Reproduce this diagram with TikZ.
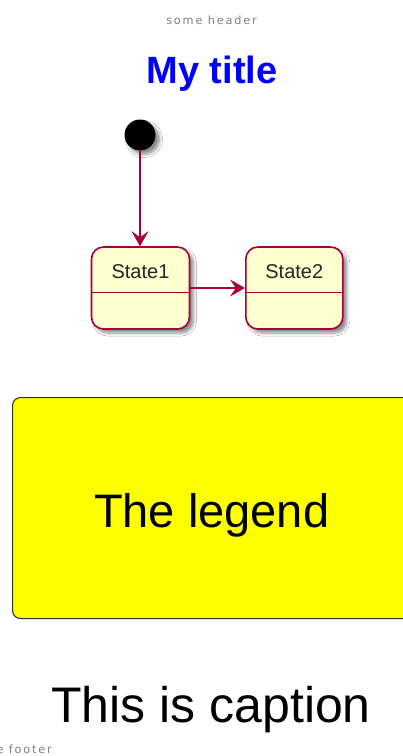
\documentclass[tikz,border=0pt]{standalone}
\usepackage{fontspec}
\setmainfont{Liberation Sans}
\newfontfamily\hdrfont[LetterSpace=16]{DejaVu Sans}
\usetikzlibrary{arrows.meta,shadows.blur}
\definecolor{stfill}{HTML}{FEFECE}
\definecolor{stline}{HTML}{A80036}
\definecolor{hdrgray}{HTML}{808080}
\definecolor{lgline}{HTML}{333333}
\definecolor{lgfill}{RGB}{255,255,0}
\definecolor{ttlblue}{RGB}{0,0,255}
\tikzset{
  stshadow/.style={blur shadow={shadow xshift=4pt,shadow yshift=-4pt,shadow opacity=45,shadow blur radius=3pt,shadow blur steps=6}},
  statebox/.style={draw=stline,fill=stfill,line width=1.6pt,rounded corners=12pt,inner sep=0pt,minimum height=82pt,stshadow},
  statetext/.style={anchor=base,inner sep=0pt,font=\fontsize{20}{24}\selectfont,text=black!85},
  divider/.style={stline,line width=1.5pt},
  trans/.style={draw=stline,line width=1.3pt,-{Stealth[length=15pt,width=17pt,inset=6pt]}},
  hdr/.style={inner sep=0pt,text=hdrgray,font=\hdrfont\fontsize{11.3}{13}\selectfont},
}
\begin{document}
\begin{tikzpicture}[x=1pt,y=-1pt]
\useasboundingbox (0,0) rectangle (403,756);
\clip (0,0) rectangle (403,756);
\fill[white] (0,0) rectangle (403,756);
% header and title
\node[hdr,anchor=base] (header) at (211.5,24) {some header};
\node[anchor=base,inner sep=0pt,text=ttlblue,font=\bfseries\fontsize{38}{42}\selectfont] (title) at (212,83) {My title};
% start
\node[circle,fill=black,minimum size=31pt,inner sep=0pt,stshadow] (start) at (140,135) {};
% states
\node[statebox,minimum width=98pt] (s1) at (140.5,288) {};
\node[statebox,minimum width=97pt] (s2) at (294.3,288) {};
\draw[divider] (s1.west |- 0,292.5) -- (s1.east |- 0,292.5);
\draw[divider] (s2.west |- 0,292.5) -- (s2.east |- 0,292.5);
\node[statetext] (s1t) at (140.5,278) {State1};
\node[statetext] (s2t) at (294.3,278) {State2};
% transitions
\draw[trans] (start) -- (start |- s1.north);
\draw[trans] (s1) -- (s2);
% legend
\node[draw=lgline,fill=lgfill,line width=1.1pt,rounded corners=8pt,minimum width=418pt,minimum height=221pt,inner sep=0pt,anchor=north west] (legend) at (12,397) {};
\node[anchor=base,inner sep=0pt,font=\fontsize{47}{52}\selectfont] (legendtext) at (211.7,527.5) {The legend};
% caption
\node[anchor=base,inner sep=0pt,font=\fontsize{50}{56}\selectfont] (caption) at (211,722.5) {This is caption};
% footer
\node[hdr,anchor=base east] (footer) at (52,753) {some footer};
\end{tikzpicture}
\end{document}
